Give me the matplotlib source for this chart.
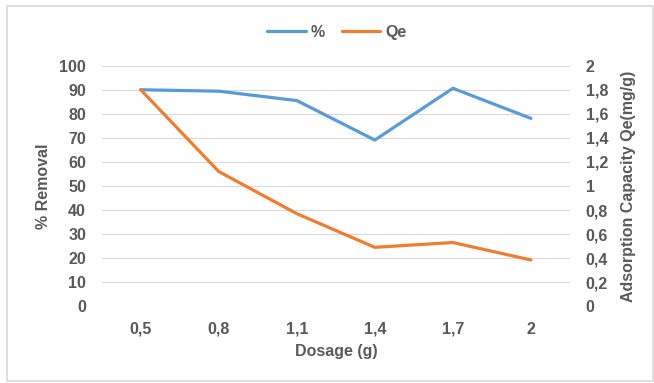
import matplotlib.pyplot as plt
from matplotlib.patches import Rectangle

# dados
dosagem = ["0,5", "0,8", "1,1", "1,4", "1,7", "2"]
remocao = [90.0, 89.4, 85.5, 69.1, 90.6, 78.1]
qe = [1.80, 1.12, 0.77, 0.49, 0.53, 0.385]

left_ticks = [0, 10, 20, 30, 40, 50, 60, 70, 80, 90, 100]
right_ticks = [0, 0.2, 0.4, 0.6, 0.8, 1.0, 1.2, 1.4, 1.6, 1.8, 2.0]
right_labels = ["0", "0,2", "0,4", "0,6", "0,8", "1", "1,2", "1,4", "1,6", "1,8", "2"]

azul = "#5B9BD5"
laranja = "#ED7D31"
cinza = "#595959"
fs = 11.5

plt.rcParams["font.family"] = ["Liberation Sans", "DejaVu Sans"]
plt.rcParams["font.weight"] = "bold"

fig = plt.figure(figsize=(6.54, 3.83), dpi=100)
ax = fig.add_axes([0.1555, 0.2003, 0.716, 0.6282])
ax2 = ax.twinx()

x = list(range(len(dosagem)))
l1, = ax.plot(x, remocao, color=azul, lw=2.3, solid_capstyle="round", label="%")
l2, = ax2.plot(x, qe, color=laranja, lw=2.3, solid_capstyle="round", label="Qe")

ax.set_xlim(-0.5, len(dosagem) - 0.5)
ax.set_ylim(0, 100)
ax2.set_ylim(0, 2)
ax.set_xticks(x)
ax.set_xticklabels(dosagem)
ax.set_yticks(left_ticks)
ax2.set_yticks(right_ticks)
ax2.set_yticklabels(right_labels)

ax.grid(axis="y", color="#D9D9D9", lw=0.8)
ax.set_axisbelow(True)
for a in (ax, ax2):
    for s in a.spines.values():
        s.set_visible(False)
    a.tick_params(length=0, labelsize=fs, labelcolor=cinza)
ax.tick_params(axis="x", pad=11)
ax.tick_params(axis="y", pad=11.3)
ax2.tick_params(axis="y", pad=11.3)
ax2.set_zorder(ax.get_zorder() + 1)

ax.set_xlabel("Dosage (g)", fontsize=fs, color=cinza, fontweight="bold", labelpad=5)
ax.set_ylabel("% Removal", fontsize=fs, color=cinza, fontweight="bold", labelpad=6)
ax2.set_ylabel("Adsorption Capacity Qe(mg/g)", fontsize=fs, color=cinza,
               fontweight="bold", labelpad=9)

leg = fig.legend(handles=[l1, l2], loc="center", bbox_to_anchor=(0.515, 0.915),
                 ncol=2, frameon=False, fontsize=fs, handlelength=2.4,
                 columnspacing=1.1, handletextpad=0.3)
for t in leg.get_texts():
    t.set_color(cinza)
    t.set_fontweight("bold")

# moldura do gráfico
fig.patches.append(Rectangle((7 / 654, 2 / 383), 646 / 654, 375 / 383,
                             transform=fig.transFigure, fill=False,
                             edgecolor="#D9D9D9", lw=1.2))

fig.savefig("out.png", dpi=100)
